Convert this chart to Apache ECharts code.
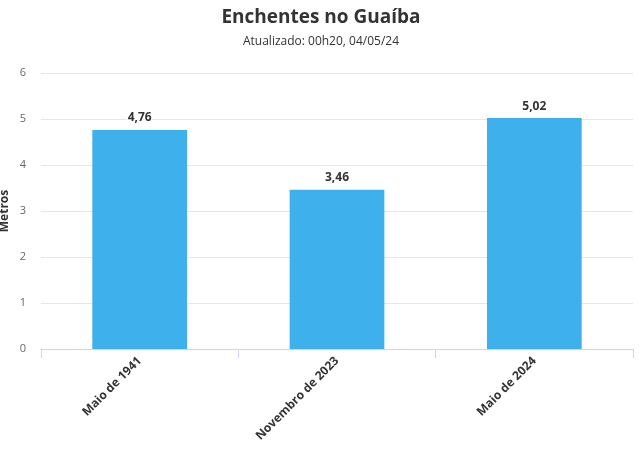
<!DOCTYPE html>
<html><head><meta charset="utf-8">
<script src="https://cdn.jsdelivr.net/npm/echarts@6/dist/echarts.min.js"></script>
<style>html,body{margin:0;padding:0;background:#fff}#c{width:642px;height:457px}</style>
</head><body><div id="c"></div>
<script>
const categories = ['Maio de 1941', 'Novembro de 2023', 'Maio de 2024'];
const values = [4.76, 3.46, 5.02];
const yTicks = [0, 1, 2, 3, 4, 5, 6];
const titleText = 'Enchentes no Guaíba';
const subtitleText = 'Atualizado: 00h20, 04/05/24';
const yName = 'Metros';

const chart = echarts.init(document.getElementById('c'));
const F = '"Open Sans", sans-serif';
chart.setOption({
  animation: false,
  title: {
    text: titleText, subtext: subtitleText, left: 'center', top: 3, itemGap: 9,
    textStyle: {fontFamily: F, fontSize: 19, fontWeight: 'bold', color: '#333'},
    subtextStyle: {fontFamily: F, fontSize: 12, color: '#333'}
  },
  graphic: [{
    type: 'text', x: 5, y: 211, rotation: Math.PI / 2,
    style: {text: yName, align: 'center', verticalAlign: 'middle',
      font: 'bold 12px "Open Sans", sans-serif', fill: '#333'}
  }],
  grid: {left: 41, right: 9, top: 73, bottom: 108, containLabel: false, outerBoundsMode: 'none'},
  xAxis: {
    type: 'category', data: categories,
    axisLine: {lineStyle: {color: '#ccd6eb'}},
    axisTick: {show: true, length: 9, lineStyle: {color: '#ccd6eb'}},
    axisLabel: {rotate: 45, margin: 10, fontFamily: F, fontSize: 12, fontWeight: 'bold', color: '#333'}
  },
  yAxis: {
    type: 'value', min: yTicks[0], max: yTicks[yTicks.length - 1], interval: 1,
    axisLabel: {fontFamily: F, fontSize: 11, color: '#666', margin: 15},
    splitLine: {lineStyle: {color: '#e6e6e6'}},
    axisLine: {show: false}, axisTick: {show: false}
  },
  series: [{
    type: 'bar', data: values, barWidth: '48%',
    itemStyle: {color: '#3eb1ec'},
    label: {
      show: true, position: 'top', distance: 6,
      formatter: p => p.value.toFixed(2).replace('.', ','),
      fontFamily: F, fontSize: 12, fontWeight: 'bold', color: '#333',
      textBorderColor: '#fff', textBorderWidth: 2
    }
  }]
});
</script></body></html>
